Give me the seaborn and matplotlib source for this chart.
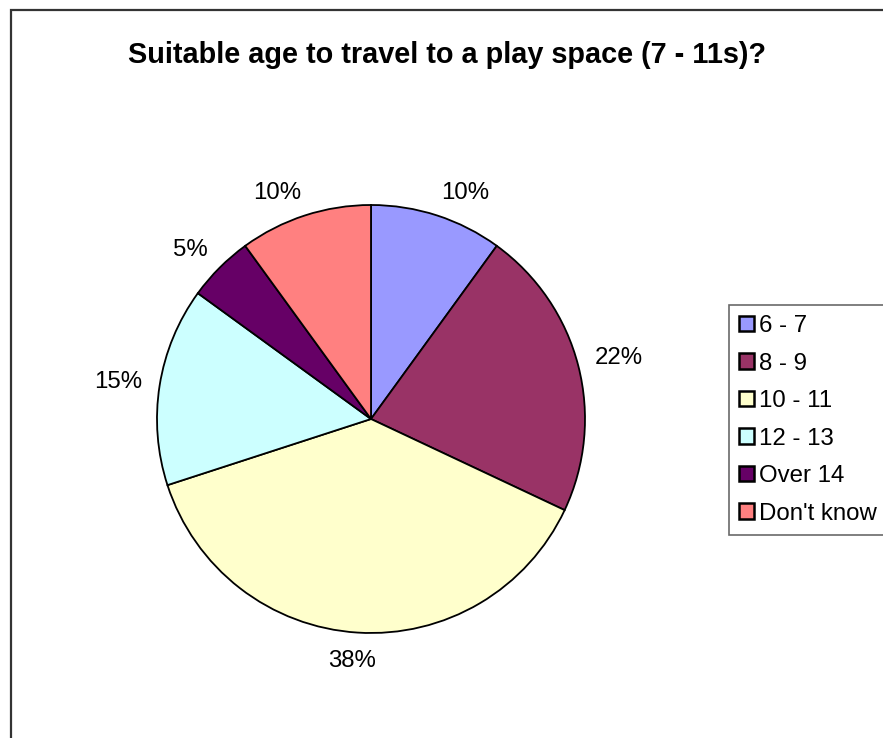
import matplotlib
matplotlib.use("Agg")
import numpy as np
import matplotlib.pyplot as plt
from matplotlib.patches import Rectangle, Patch
import seaborn as sns

sns.set_theme(style="white")
plt.rcParams["font.family"] = ["Liberation Sans", "DejaVu Sans"]
plt.rcParams["text.color"] = "black"

# Survey answers
categories = ["6 - 7", "8 - 9", "10 - 11", "12 - 13", "Over 14", "Don't know"]
shares = [10, 22, 38, 15, 5, 10]
colors = ["#9999FF", "#993366", "#FFFFCC", "#CCFFFF", "#660066", "#FF8080"]
title = "Suitable age to travel to a play space (7 - 11s)?"

W, H = 883, 738
fig = plt.figure(figsize=(W / 100, H / 100), dpi=100)
fig.patch.set_facecolor("white")

# chart-area frame (right and bottom edges run off the canvas)
fig.patches.append(Rectangle((11 / W, -0.05), 1.1, 1 - 10 / H + 0.05,
                             transform=fig.transFigure, fill=False,
                             edgecolor="#333333", linewidth=1.6))

cx, cy, r = 371, 419, 214
ax = fig.add_axes([(cx - r) / W, (H - cy - r) / H, 2 * r / W, 2 * r / H])
wedges, _ = ax.pie(
    shares, colors=colors, startangle=90, counterclock=False,
    wedgeprops=dict(edgecolor="black", linewidth=1.3),
)
ax.set_xlim(-1, 1)
ax.set_ylim(-1, 1)
ax.set_aspect("auto")
ax.axis("off")

# percentage labels: anchored just outside the rim, pushed away from the pie
renderer = fig.canvas.get_renderer()
total = sum(shares)
label_fs = 17.3
for w, v in zip(wedges, shares):
    mid = np.deg2rad((w.theta1 + w.theta2) / 2)
    ux, uy = np.cos(mid), np.sin(mid)
    txt = f"{100 * v / total:.0f}%"
    probe = ax.text(0, 0, txt, fontsize=label_fs)
    bb = probe.get_window_extent(renderer)
    probe.remove()
    sx = np.clip(3 * ux, -1, 1)
    sy = np.clip(3 * uy, -1, 1)
    ax.annotate(txt, xy=(1.08 * ux, 1.08 * uy),
                xytext=(sx * bb.width / 2, sy * bb.height * 0.4 - 3),
                textcoords="offset pixels", ha="center", va="center",
                fontsize=label_fs, color="black", annotation_clip=False)

fig.text(447 / W, 1 - 55 / H, title, ha="center", va="center",
         fontsize=20.8, fontweight="bold", color="black")

handles = [Patch(facecolor=c, edgecolor="black", linewidth=1.8) for c in colors]
leg = fig.legend(handles, categories, loc="upper left",
                 bbox_to_anchor=(729 / W, 1 - 305 / H),
                 fontsize=17.3, frameon=True, fancybox=False,
                 edgecolor="#444444", handlelength=0.6, handleheight=0.6,
                 handletextpad=0.22, labelspacing=0.645, borderpad=0.42,
                 borderaxespad=0, labelcolor="black")
leg.get_frame().set_linewidth(1.2)

fig.savefig("out.png", dpi=100, facecolor="white")
